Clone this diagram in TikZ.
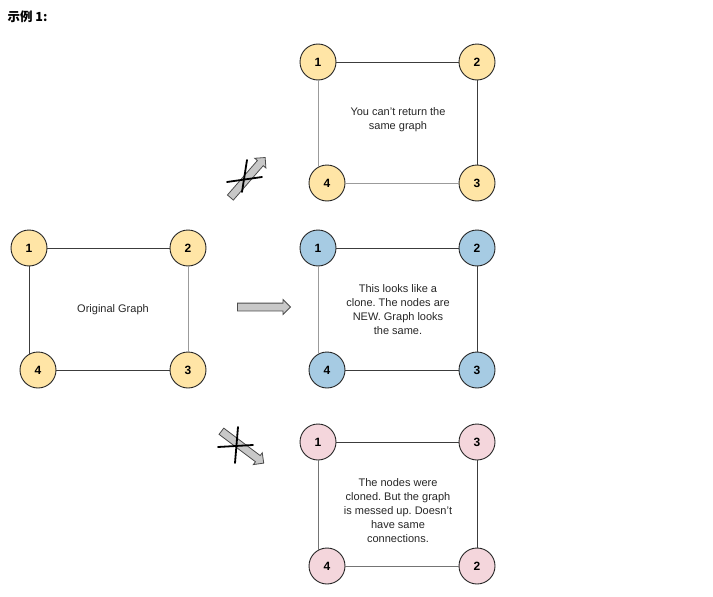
\documentclass[tikz,border=0pt]{standalone}
\usepackage{fontspec}
\setmainfont{Liberation Sans}
\newfontfamily\cjk{Noto Sans CJK SC}
\usetikzlibrary{shapes.arrows}
\definecolor{vyellow}{RGB}{255,229,166}
\definecolor{vblue}{RGB}{166,203,227}
\definecolor{vpink}{RGB}{244,214,220}
\definecolor{edgedark}{RGB}{60,60,60}
\definecolor{edgelight}{RGB}{155,155,155}
\definecolor{arrowgray}{RGB}{200,200,200}
\frenchspacing
\begin{document}
\begin{tikzpicture}[x=1pt,y=-1pt,
  vertex/.style={circle,draw=black!85,line width=0.9pt,minimum size=36pt,inner sep=0pt,font=\bfseries\fontsize{12}{12}\selectfont},
  edge/.style={draw=edgedark,line width=1pt},
  edgelight/.style={draw=edgelight,line width=1pt},
  note/.style={align=center,text=black!85,font=\fontsize{11}{14}\selectfont},
  blockarrow/.style={single arrow,draw=black!70,fill=arrowgray,line width=0.8pt,minimum height=53pt,inner sep=3.5pt,single arrow head extend=3.5pt},
  strike/.style={line width=1.8pt,line cap=round}]
\useasboundingbox (0,0) rectangle (713,597);
\node[anchor=west] (title) at (4,17) {\cjk\bfseries\fontsize{12.5}{14}\selectfont 示例 1:};
% original graph
\node[vertex,fill=vyellow] (o1) at (29,248) {1};
\node[vertex,fill=vyellow] (o2) at (188,248) {2};
\node[vertex,fill=vyellow] (o3) at (188,370) {3};
\node[vertex,fill=vyellow] (o4) at (38,370) {4};
\node[note] (otext) at (113,310) {Original Graph};
\draw[edge] (o1) -- (o2);
\draw[edgelight] (o2) -- (o3);
\draw[edge] (o4) -- (o3);
\draw[edge] (o1.south) -- (o1.south |- o4.122);
% same graph returned
\node[vertex,fill=vyellow] (s1) at (318,62) {1};
\node[vertex,fill=vyellow] (s2) at (477,62) {2};
\node[vertex,fill=vyellow] (s3) at (477,183) {3};
\node[vertex,fill=vyellow] (s4) at (327,183) {4};
\node[note] (stext) at (398,120) {You can't return the\\same graph};
\draw[edge] (s1) -- (s2);
\draw[edge] (s2) -- (s3);
\draw[edgelight] (s4) -- (s3);
\draw[edgelight] (s1.south) -- (s1.south |- s4.120);
% proper clone
\node[vertex,fill=vblue] (c1) at (318,248) {1};
\node[vertex,fill=vblue] (c2) at (477,248) {2};
\node[vertex,fill=vblue] (c3) at (477,370) {3};
\node[vertex,fill=vblue] (c4) at (327,370) {4};
\node[note] (ctext) at (398,310) {This looks like a\\clone. The nodes are\\NEW. Graph looks\\the same.};
\draw[edge] (c1) -- (c2);
\draw[edge] (c2) -- (c3);
\draw[edge] (c4) -- (c3);
\draw[edgelight] (c1.south) -- (c1.south |- c4.120);
% wrong clone
\node[vertex,fill=vpink] (w1) at (318,442) {1};
\node[vertex,fill=vpink] (w3) at (477,442) {3};
\node[vertex,fill=vpink] (w2) at (477,566) {2};
\node[vertex,fill=vpink] (w4) at (327,566) {4};
\node[note] (wtext) at (398,511) {The nodes were\\cloned. But the graph\\is messed up. Doesn't\\have same\\connections.};
\draw[edge] (w1) -- (w3);
\draw[edge] (w3) -- (w2);
\draw[edgelight!75!black] (w4) -- (w2);
\draw[edgelight!75!black] (w1.south) -- (w1.south |- w4.120);
% arrows
\node[blockarrow] (goodarrow) at (262,307) {};
\node[blockarrow,rotate=49] (samearrow) at (246.5,179) {};
\node[blockarrow,rotate=-37] (wrongarrow) at (241,446) {};
\draw[strike] (227,182) -- (262,177);
\draw[strike] (247,160) -- (242,192);
\draw[strike] (218,447) -- (253,445);
\draw[strike] (238,427) -- (235,463);
\end{tikzpicture}
\end{document}
